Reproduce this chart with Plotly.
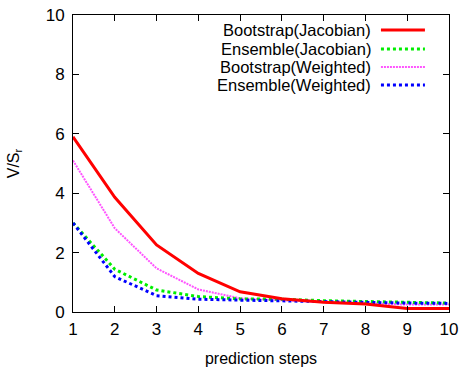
import plotly.graph_objects as go

steps = [1, 2, 3, 4, 5, 6, 7, 8, 9, 10]
bootstrap_jacobian = [5.9, 3.86, 2.26, 1.30, 0.68, 0.45, 0.33, 0.27, 0.12, 0.12]
ensemble_jacobian = [3.0, 1.44, 0.74, 0.52, 0.44, 0.43, 0.38, 0.35, 0.32, 0.30]
bootstrap_weighted = [5.1, 2.82, 1.47, 0.76, 0.46, 0.40, 0.33, 0.30, 0.25, 0.25]
ensemble_weighted = [3.0, 1.19, 0.55, 0.43, 0.40, 0.37, 0.35, 0.33, 0.30, 0.29]

series = [
    ("Bootstrap(Jacobian)", bootstrap_jacobian, "#ff0000", "solid", 3),
    ("Ensemble(Jacobian)", ensemble_jacobian, "#00ee00", "dot", 3),
    ("Bootstrap(Weighted)", bootstrap_weighted, "#ff55ff", "2px,1px", 2),
    ("Ensemble(Weighted)", ensemble_weighted, "#0000ff", "dot", 3),
]
draw_order = [2, 1, 3, 0]

fig = go.Figure()
for i in draw_order:
    name, ys, color, dash, w = series[i]
    fig.add_trace(go.Scatter(x=steps, y=ys, mode="lines", name=name,
                             line=dict(color=color, dash=dash, width=w),
                             showlegend=False))

leg_y = [0.9495, 0.8855, 0.825, 0.764]
for (name, ys, color, dash, w), yy in zip(series, leg_y):
    fig.add_annotation(x=0.798, y=yy, xref="paper", yref="paper", text=name,
                       showarrow=False, xanchor="right", yanchor="middle",
                       font=dict(size=16.5, color="black"))
    fig.add_shape(type="line", xref="paper", yref="paper", x0=0.819, x1=0.936,
                  y0=yy, y1=yy, line=dict(color=color, dash=dash, width=w))

axis_common = dict(showgrid=False, zeroline=False, showline=True, linecolor="black",
                   linewidth=1, mirror="ticks", ticks="inside", ticklen=6,
                   tickcolor="black", tickfont=dict(size=17, color="black"),
                   automargin=False)
fig.update_xaxes(range=[1, 10], tickvals=steps, ticklabelstandoff=2,
                 title=dict(text="prediction steps",
                 font=dict(size=16, color="black"), standoff=14), **axis_common)
fig.update_yaxes(range=[0, 10], tickvals=[0, 2, 4, 6, 8, 10], ticklabelstandoff=4,
                 title=dict(text="V/S<sub>r</sub>", font=dict(size=16, color="black"), standoff=22),
                 **axis_common)
fig.update_layout(width=463, height=371, margin=dict(l=73, r=14, t=15, b=59),
                  plot_bgcolor="white", paper_bgcolor="white",
                  font=dict(family="Liberation Sans, Arial, sans-serif", color="black"))
fig.write_html("out.html")
